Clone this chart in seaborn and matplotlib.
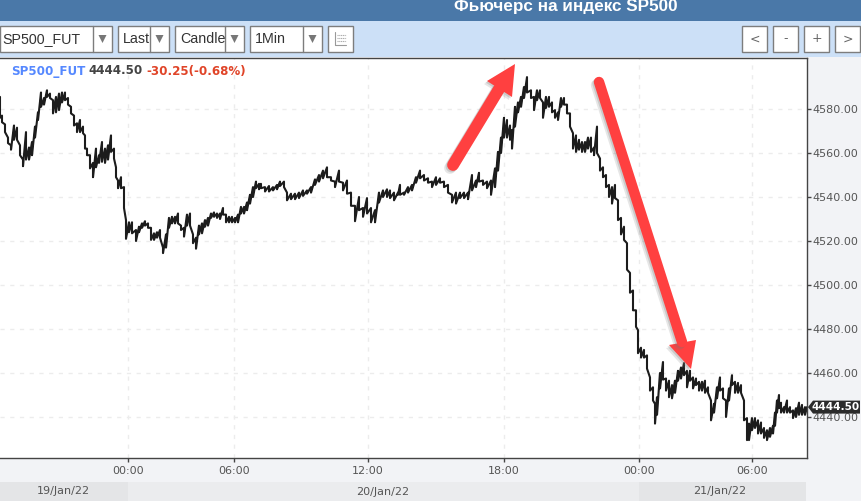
import matplotlib
matplotlib.use('Agg')
import matplotlib.pyplot as plt
from matplotlib.patches import Polygon, Rectangle
import pandas as pd
import seaborn as sns

# Data: chart position of each sample, high and low price
bars_a = [0, 2, 5, 8, 11, 14, 17, 20, 23, 26, 29, 32, 35, 38, 41, 44, 47, 50, 53, 56, 59, 62, 65, 68, 71, 74, 77, 80, 83, 85, 87, 90, 93, 96, 99, 102, 105, 108, 111, 114, 116, 118, 121, 124, 126, 129, 132]
high_a = [4585.5, 4577, 4573, 4567, 4563.5, 4572.5, 4571.5, 4563.5, 4557, 4569.5, 4562.5, 4565, 4572, 4578.5, 4587.5, 4585, 4588.5, 4587, 4584, 4585.5, 4587, 4587.5, 4587.5, 4585, 4581, 4577, 4573.5, 4575, 4572, 4568, 4562, 4559, 4555.5, 4562, 4559, 4565, 4562, 4563.5, 4568, 4562, 4553.5, 4547.5, 4549, 4544.5, 4529.5, 4528.5, 4528.5]
low_a = [4576, 4574, 4569.5, 4564.5, 4561.5, 4566, 4566, 4559, 4554, 4557, 4557, 4559, 4567, 4575, 4581, 4582, 4585.5, 4585, 4578, 4578.5, 4579.5, 4583, 4584, 4582, 4578, 4572.5, 4569.5, 4569.5, 4569, 4562, 4559, 4553, 4549, 4553.5, 4555.5, 4556, 4555.5, 4557, 4560.5, 4557.5, 4549, 4544, 4544, 4535, 4521, 4524, 4523.5]

bars_b = [136, 139, 142, 145, 148, 151, 154, 157, 160, 163, 166, 169, 172, 175, 178, 181, 184, 187, 190, 193, 196, 199, 202, 205, 208, 211, 214, 217, 220, 223, 226, 229, 232, 235, 238, 241, 244, 247, 250, 253, 256]
high_b = [4525, 4526.5, 4528, 4529, 4528, 4526, 4523.5, 4524, 4525, 4517, 4523, 4530.5, 4531, 4531, 4532.5, 4527, 4526, 4532, 4532.5, 4523, 4521.5, 4527, 4528, 4529.5, 4530.5, 4532.5, 4533, 4532.5, 4532.5, 4535, 4532, 4531, 4531, 4530.5, 4532, 4535.5, 4535.5, 4537.5, 4541, 4544.5, 4547]
low_b = [4520, 4524, 4526, 4527, 4526, 4520.5, 4520.5, 4521.5, 4521.5, 4514.5, 4517, 4526, 4528, 4528, 4528, 4525, 4522, 4527, 4527, 4519, 4516.5, 4523, 4523.5, 4526.5, 4527, 4530.5, 4531, 4530.5, 4530, 4532, 4528.5, 4528.5, 4528.5, 4528.5, 4528.5, 4532.5, 4532.5, 4534, 4537, 4540, 4544]

bars_c = [259, 261, 265, 269, 273, 277, 280, 284, 287, 291, 295, 299, 303, 307, 311, 315, 319, 323, 327, 331, 335, 339, 343, 347, 351, 355, 359, 363, 367, 371, 375, 379, 383, 387]
high_c = [4546, 4546, 4544.5, 4545, 4544.5, 4545.5, 4547, 4547, 4542, 4541.5, 4541.5, 4542, 4543, 4543, 4544.5, 4548, 4550, 4552, 4553.5, 4549, 4547, 4552, 4546.5, 4547.5, 4542, 4536, 4540, 4535, 4539.5, 4535, 4534, 4542, 4543, 4543.5]
low_c = [4543.5, 4544, 4542.5, 4542.5, 4543, 4543.5, 4545, 4544.5, 4538.5, 4539, 4539, 4539.5, 4540.5, 4541.5, 4542, 4545.5, 4547, 4548.5, 4549, 4547.5, 4544.5, 4547, 4543, 4541.5, 4536, 4529, 4534, 4531, 4532.5, 4528.5, 4528.5, 4537.5, 4540, 4540]

bars_d = [390, 394, 398, 400, 404, 408, 412, 416, 420, 424, 428, 432, 436, 440, 444, 448, 452, 456, 460, 464, 468, 472, 476, 479, 483, 487, 491]
high_d = [4543, 4542, 4542, 4545.5, 4542, 4544.5, 4545.5, 4549, 4552, 4550, 4548.5, 4547, 4549, 4548.5, 4547, 4545.5, 4541, 4542, 4542, 4542, 4542, 4550, 4547.5, 4551, 4547.5, 4547, 4547.5]
low_d = [4539.5, 4538.5, 4541, 4541, 4541, 4542, 4543, 4546.5, 4548.5, 4547.5, 4546.5, 4544.5, 4545.5, 4546.5, 4544.5, 4542, 4537.5, 4537, 4539.5, 4539.5, 4539, 4543, 4544.5, 4547, 4545.5, 4544, 4541]

bars_e = [495, 498, 501, 504, 507, 510, 512, 515, 518, 521, 524, 527, 531, 534, 537, 540, 543, 546, 549, 552, 555, 558, 561, 564, 567, 570, 573, 576, 579, 582, 585, 588, 591, 594, 597, 600, 603, 606, 609]
high_e = [4553, 4560.5, 4567, 4576, 4575, 4572.5, 4570.5, 4581, 4583, 4585.5, 4590, 4594.5, 4588.5, 4585.5, 4588.5, 4588.5, 4583, 4585.5, 4585.5, 4583, 4579.5, 4578.5, 4585, 4585, 4582, 4578, 4569, 4568, 4566, 4565, 4565, 4567, 4567, 4562.5, 4572, 4557.5, 4553.5, 4550, 4545.5]
low_e = [4544.5, 4552, 4560, 4567, 4567, 4566, 4562, 4572, 4578.5, 4581, 4585, 4587.5, 4585, 4579.5, 4584, 4585, 4576, 4580.5, 4581, 4578.5, 4576, 4575, 4581, 4582, 4578, 4572, 4562, 4560.5, 4561.5, 4560.5, 4560.5, 4562, 4560.5, 4559, 4560, 4552, 4549, 4544.5, 4540]

bars_f = [612, 615, 618, 621, 624, 627, 630, 633, 636, 638, 641, 644, 647, 650, 653, 655, 657, 660, 663, 666, 669, 672, 675, 678, 681, 684, 687, 690, 693, 696, 699, 702, 705, 708]
high_f = [4544.5, 4545.5, 4538.5, 4530.5, 4526.5, 4519, 4505.5, 4497.5, 4488.5, 4479.5, 4471.5, 4470.5, 4468, 4458, 4453.5, 4446, 4449, 4460, 4465, 4457.5, 4456.5, 4454.5, 4456.5, 4461, 4462.5, 4464.5, 4461, 4461, 4458, 4457.5, 4456, 4456, 4456.5, 4453.5]
low_f = [4537, 4539.5, 4529.5, 4523, 4520.5, 4507, 4496.5, 4488.5, 4481, 4469, 4467, 4467, 4462, 4452, 4447.5, 4437, 4441, 4453, 4457, 4452, 4449, 4448.5, 4451, 4456.5, 4457.5, 4459, 4453.5, 4456.5, 4453, 4454.5, 4452, 4452, 4451, 4451]

bars_g = [711, 714, 717, 720, 723, 726, 729, 732, 735, 738, 741, 744, 747, 749, 752, 755, 758, 761, 764, 767, 770, 773, 775, 777, 779, 781, 784, 787, 790, 793, 796, 799, 802, 805, 807]
high_g = [4447.5, 4446, 4453.5, 4458, 4453, 4447.5, 4453, 4459, 4456, 4455.5, 4454.5, 4447.5, 4439.5, 4437, 4439.5, 4439.5, 4438.5, 4437.5, 4435, 4434, 4435, 4436, 4442, 4447.5, 4450, 4446.5, 4444.5, 4447.5, 4444.5, 4443, 4444, 4446.5, 4445.5, 4444.5, 4444.5]
low_g = [4438.5, 4442, 4448.5, 4452, 4448.5, 4440, 4447.5, 4454.5, 4451, 4451, 4451, 4438.5, 4429.5, 4429.5, 4434, 4435, 4432.5, 4432.5, 4430.5, 4429.5, 4431, 4432.5, 4436, 4442, 4444, 4442, 4442, 4442, 4442, 4439.5, 4440, 4441, 4441, 4441, 4444.5]

price_ticks = [4580, 4560, 4540, 4520, 4500, 4480, 4460, 4440]
time_ticks = [128, 234, 368, 504, 639, 752]
time_labels = ['00:00', '06:00', '12:00', '18:00', '00:00', '06:00']
last_price = 4444.50

bars = bars_a + bars_b + bars_c + bars_d + bars_e + bars_f + bars_g
highs = high_a + high_b + high_c + high_d + high_e + high_f + high_g
lows = low_a + low_b + low_c + low_d + low_e + low_f + low_g

# zigzag between high and low so the line looks like the candle chart
xs, ys = [], []
for b, h, l in zip(bars, highs, lows):
    xs += [b, b]
    ys += [h, l]
df = pd.DataFrame({'bar': xs, 'price': ys})

sns.set_theme(style='white')
plt.rcParams['font.family'] = ['DejaVu Sans']

fig = plt.figure(figsize=(8.62, 5.04), dpi=100, facecolor='#f2f3f6')
W, H = 862, 504

# Main chart, placed by pixels
ax = fig.add_axes([0, (H - 458) / H, 807 / W, 400 / H], facecolor='white')
sns.lineplot(data=df, x='bar', y='price', estimator=None, sort=False, color='#1c1c1c', linewidth=1.5, ax=ax)
ax.set_xlim(0, 807)
ax.set_ylim(4580 - 349 / 2.2, 4580 + 51 / 2.2)
ax.set_xlabel('')
ax.set_ylabel('')
ax.yaxis.tick_right()
ax.set_yticks(price_ticks)
ax.set_yticklabels(['%.2f' % p for p in price_ticks])
ax.set_xticks(time_ticks)
ax.set_xticklabels(time_labels)
ax.tick_params(axis='x', length=3, width=1, color='#444444', labelcolor='#555555', labelsize=8, pad=3, bottom=True)
ax.tick_params(axis='y', length=3, width=1, color='#444444', labelcolor='#555555', labelsize=8, pad=1, right=True)
ax.grid(True, color='#ececec', linestyle=(0, (3, 4)), linewidth=1)
ax.set_axisbelow(True)
for side in ['top', 'right', 'bottom']:
    ax.spines[side].set_visible(True)
    ax.spines[side].set_color('#444444')
    ax.spines[side].set_linewidth(1)
ax.spines['left'].set_visible(False)

# Pixel overlay for the toolbar, date strip, arrows
ov = fig.add_axes([0, 0, 1, 1], facecolor='none', zorder=5)
ov.set_xlim(0, W)
ov.set_ylim(H, 0)
ov.axis('off')

ov.add_patch(Rectangle((0, 0), W, 21, color='#4a78a8', lw=0))
ov.add_patch(Rectangle((0, 21), W, 36, color='#cce0f7', lw=0))
ov.text(565.5, 7, 'Фьючерс на индекс SP500', color='white', fontsize=12.3, fontweight='bold',
        family='Liberation Sans', ha='center', va='center')

# drop-down boxes
combos = [(-1, 93, 112, 'SP500_FUT', 2), (118, 150, 169, 'Last', 123), (175, 225, 244, 'Candle', 180), (250, 303, 322, '1Min', 255)]
for x0, div, x1, label, tx in combos:
    ov.add_patch(Rectangle((x0 + 0.5, 25.5), x1 - x0, 26, fc='white', ec='#7d7d7d', lw=1))
    ov.plot([div, div], [25.5, 51.5], color='#7d7d7d', lw=1)
    ov.add_patch(Polygon([((div + x1) / 2 - 4, 35), ((div + x1) / 2 + 4, 35), ((div + x1) / 2, 43)], color='#777777', lw=0))
    txt = ov.text(tx, 39, label, color='#333333', fontsize=10.3, family='Liberation Sans', va='center')
    txt.set_clip_path(Rectangle((x0, 25), div - x0, 27, transform=ov.transData))

ov.add_patch(Rectangle((328.5, 25.5), 25, 26, fc='white', ec='#7d7d7d', lw=1))
ov.plot([335.5, 335.5, 346.5], [32, 45, 45], color='#999999', lw=0.8)
for yy in [35, 38, 41]:
    ov.plot([337, 346], [yy, yy], color='#aaaaaa', lw=0.8, ls=(0, (1, 0.6)))

for x0, label in [(742.5, '<'), (773.5, '-'), (804.5, '+'), (835.5, '>')]:
    ov.add_patch(Rectangle((x0, 25.5), 25, 26, fc='white', ec='#7d7d7d', lw=1))
    ov.text(x0 + 12.5, 39, label, color='#666666', fontsize=9, ha='center', va='center')

# legend line at the top of the chart
ov.text(11, 71, 'SP500_FUT', color='#5588ff', fontsize=8.6, fontweight='bold', va='center')
ov.text(88, 71, '4444.50', color='#444444', fontsize=8.6, fontweight='bold', va='center')
ov.text(146, 71, '-30.25(-0.68%)', color='#e04428', fontsize=8.6, fontweight='bold', va='center')

# date strip
ov.add_patch(Rectangle((0, 482), 128, 19, color='#e4e5e7', lw=0))
ov.add_patch(Rectangle((128, 482), 511, 19, color='#ebecee', lw=0))
ov.add_patch(Rectangle((639, 482), 167, 19, color='#e4e5e7', lw=0))
ov.add_patch(Rectangle((0, 501), W, 3, color='white', lw=0))
for xc, yc, label in [(63, 491, '19/Jan/22'), (383, 492, '20/Jan/22'), (720, 491, '21/Jan/22')]:
    ov.text(xc, yc, label, color='#555555', fontsize=8, ha='center', va='center')

# last price tag
tag_y = 109 + (4580 - last_price) * 2.2
ov.add_patch(Polygon([(808, tag_y), (813, tag_y - 6.5), (860, tag_y - 6.5), (860, tag_y + 6.5), (813, tag_y + 6.5)], color='#2b2b2b', lw=0))
ov.text(836, tag_y, '%.2f' % last_price, color='white', fontsize=7.6, fontweight='bold', ha='center', va='center')


# hand-drawn red arrows with a soft shadow
def red_arrow(start, end, head, width):
    for dx, dy, col, a in [(-3, 3, '#777777', 0.18), (-1.5, 1.5, '#777777', 0.25), (0, 0, '#ff4040', 1)]:
        ov.plot([start[0] + dx, end[0] + dx], [start[1] + dy, end[1] + dy], color=col, alpha=a, lw=width,
                solid_capstyle='round')
        ov.add_patch(Polygon([(px + dx, py + dy) for px, py in head], color=col, alpha=a, lw=0))


red_arrow((453, 165), (499, 89), [(515, 64), (487, 81), (512, 97)], 8.5)
red_arrow((599, 82), (682, 342), [(691, 369), (669, 345), (696, 340)], 7.5)

plt.savefig('out.png', dpi=100)
